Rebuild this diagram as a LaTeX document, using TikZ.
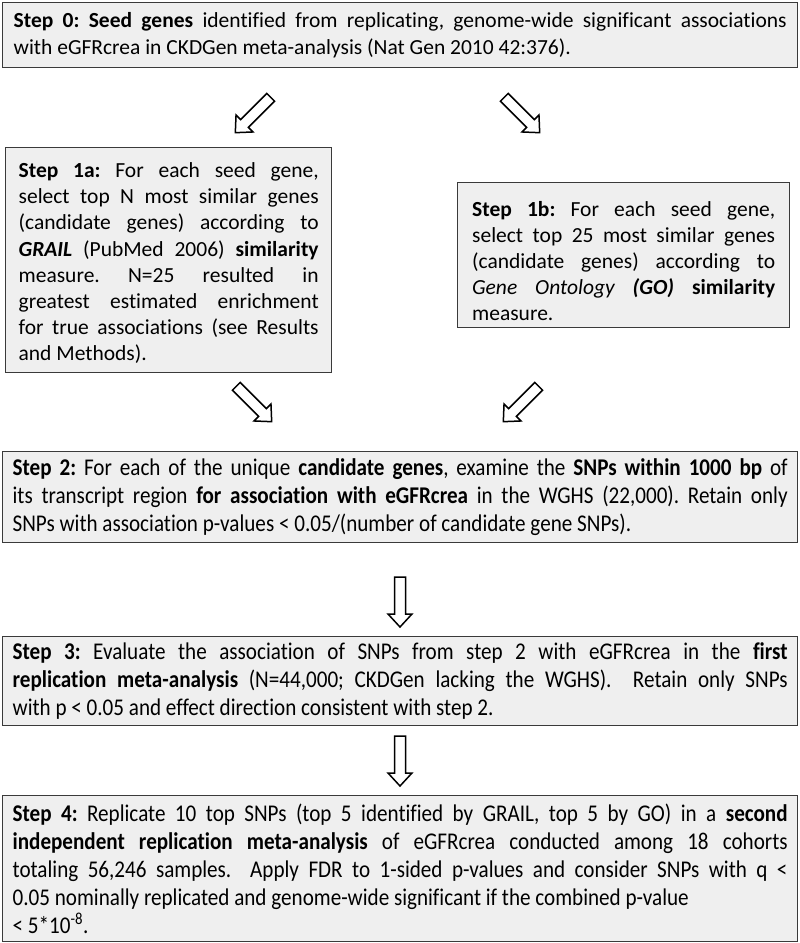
\documentclass[tikz,border=0pt]{standalone}
\usepackage{fontspec}
\setmainfont{Carlito}[Ligatures=NoCommon]
\newfontfamily\condfont{Carlito}[FakeStretch=0.88,Ligatures=NoCommon]
\definecolor{boxfill}{HTML}{EFEFEF}
\definecolor{boxline}{HTML}{3A3A3A}
\newcommand{\bigtext}{\fontsize{21.5}{26.2}\selectfont\frenchspacing}
\newcommand{\condtext}{\condfont\fontsize{24}{28}\selectfont\frenchspacing}
\newcommand{\blockarr}[3]{%
  \begin{scope}[shift={(#1,#2)},rotate=#3]
    \draw[barrow] (-25,-5.5) -- (12,-5.5) -- (12,-12) -- (25,0) -- (12,12) -- (12,5.5) -- (-25,5.5) -- cycle;
  \end{scope}}
\begin{document}
\begin{tikzpicture}[x=1pt,y=1pt,
  box/.style={draw=boxline, line width=1.3pt, fill=boxfill, inner ysep=0pt, align=justify, anchor=north west},
  bigbox/.style={box, font=\bigtext},
  condbox/.style={box, font=\condtext, inner xsep=10pt, text width=775pt, minimum width=795pt},
  barrow/.style={draw=black, line width=1.5pt, fill=white, line join=miter}]
\useasboundingbox (0,0) rectangle (800,-943);

\node[bigbox, inner xsep=11pt, text width=773pt, minimum width=795pt, minimum height=65pt] (s0) at (2,-2)
 {\textbf{Step 0: Seed genes} identified from replicating, genome-wide significant associations\linebreak
  with eGFRcrea in CKDGen meta-analysis (Nat Gen 2010 42:376).};

\node[bigbox, inner xsep=13pt, text width=300pt, minimum width=326pt, minimum height=225pt] (s1a) at (5,-147)
 {\rule{0pt}{21pt}\textbf{Step 1a:} For each seed gene,\linebreak
  select top N most similar genes\linebreak
  (candidate genes) according to\linebreak
  \textbf{\textit{GRAIL}} (PubMed 2006) \textbf{similarity}\linebreak
  measure. N=25 resulted in\linebreak
  greatest estimated enrichment\linebreak
  for true associations (see Results\linebreak
  and Methods).};

\node[bigbox, inner xsep=14.5pt, text width=303pt, minimum width=332pt, minimum height=145pt] (s1b) at (457,-182)
 {\rule{0pt}{27pt}\textbf{Step 1b:} For each seed gene,\linebreak
  select top 25 most similar genes\linebreak
  (candidate genes) according to\linebreak
  \textit{Gene Ontology \textbf{(GO)}} \textbf{similarity}\linebreak
  measure.};

\node[condbox, minimum height=91pt] (s2) at (2,-451)
 {\textbf{Step 2:} For each of the unique \textbf{candidate genes}, examine the \textbf{SNPs within 1000 bp} of\linebreak
  its transcript region \textbf{for association with eGFRcrea} in the WGHS (22,000). Retain only\linebreak
  SNPs with association p-values < 0.05/(number of candidate gene SNPs).};

\node[condbox, minimum height=89pt] (s3) at (2,-636)
 {\textbf{Step 3:} Evaluate the association of SNPs from step 2 with eGFRcrea in the \textbf{first}\linebreak
  \textbf{replication meta-analysis} (N=44,000; CKDGen lacking the WGHS).\ \ Retain only SNPs\linebreak
  with p < 0.05 and effect direction consistent with step 2.};

\node[condbox, minimum height=146pt] (s4) at (2,-795)
 {\textbf{Step 4:} Replicate 10 top SNPs (top 5 identified by GRAIL, top 5 by GO) in a \textbf{second}\linebreak
  \textbf{independent replication meta-analysis} of eGFRcrea conducted among 18 cohorts\linebreak
  totaling 56,246 samples.\ \ Apply FDR to 1-sided p-values and consider SNPs with q <\linebreak
  0.05 nominally replicated and genome-wide significant if the combined p-value\\
  < 5*10\textsuperscript{-8}.};

\blockarr{253}{-115}{-135}
\blockarr{522}{-115}{-45}
\blockarr{254}{-404}{-45}
\blockarr{521}{-404}{-135}
\blockarr{400}{-602}{-90}
\blockarr{400}{-761}{-90}
\end{tikzpicture}
\end{document}
